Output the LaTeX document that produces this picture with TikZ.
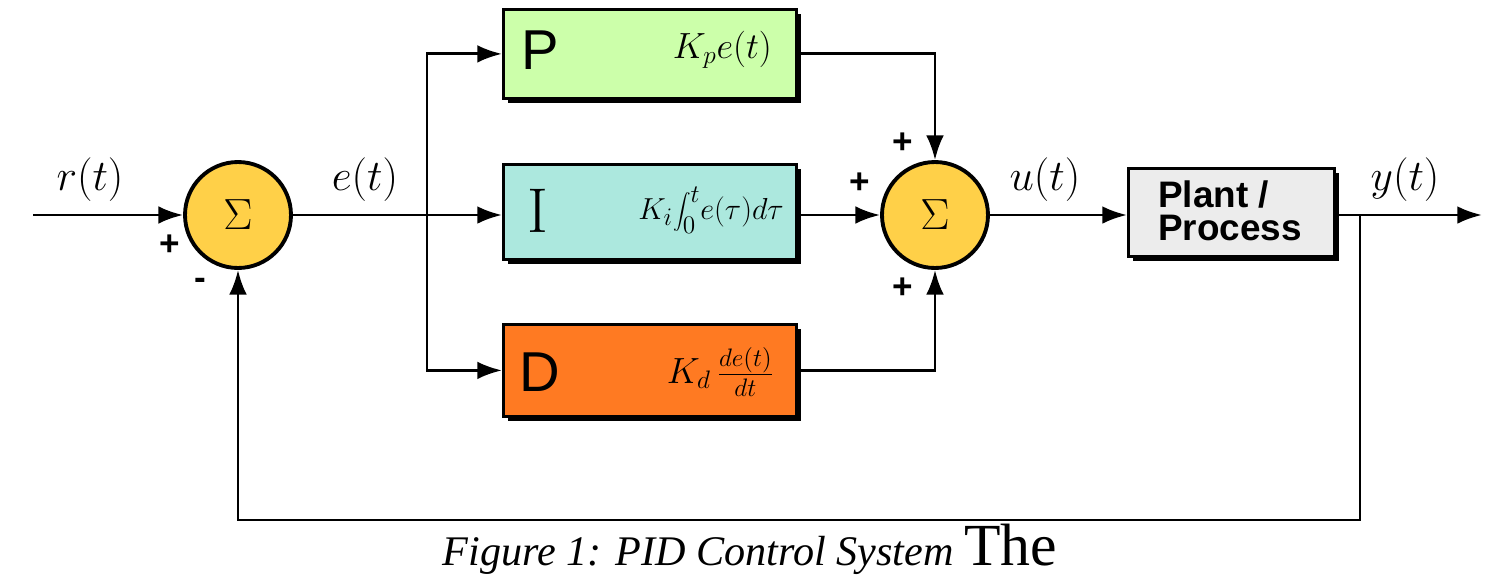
\documentclass[tikz,border=0pt]{standalone}
\usepackage{fontspec}
\setsansfont{Liberation Sans}
\newfontfamily\capfont{Liberation Serif}
\usetikzlibrary{arrows.meta}
\definecolor{pgreen}{RGB}{204,255,170}
\definecolor{icyan}{RGB}{172,232,222}
\definecolor{dorange}{RGB}{255,122,34}
\definecolor{plantg}{RGB}{236,236,236}
\definecolor{sumy}{RGB}{255,208,72}
\begin{document}
\begin{tikzpicture}[x=0.02cm,y=-0.02cm,
  blk/.style={draw=black,line width=1.6pt,minimum width=5.86cm,minimum height=1.84cm,anchor=north west,inner sep=0pt},
  sum/.style={circle,draw=black,line width=2.2pt,fill=sumy,minimum size=2.12cm,inner sep=0pt,font=\fontsize{48}{48}\selectfont},
  wire/.style={line width=1.6pt},
  arr/.style={wire,-{Latex[length=14pt,width=10pt]}},
  lbl/.style={font=\fontsize{24}{24}\selectfont},
  fml/.style={font=\fontsize{22}{22}\selectfont,anchor=east},
  sgn/.style={font=\sffamily\bfseries\fontsize{20}{20}\selectfont}]
\useasboundingbox (0,0) rectangle (1489,582);
% shadows
\fill (508,14) rectangle (801,103);
\fill (508,169) rectangle (801,264);
\fill (508,329) rectangle (801,421);
\fill (1133,173) rectangle (1339,261);
\node[blk,fill=pgreen,minimum height=1.78cm] (P) at (502,8) {};
\node[blk,fill=icyan,minimum height=1.9cm] (I) at (502,163) {};
\node[blk,fill=dorange] (D) at (502,323) {};
\node[draw=black,line width=1.6pt,fill=plantg,minimum width=4.12cm,minimum height=1.76cm,anchor=north west,inner sep=0pt] (G) at (1127,167) {};
\node[font=\sffamily\bfseries\fontsize{21}{19}\selectfont,align=left] (Gt) at (1230,211) {Plant /\\Process};
\node[font=\sffamily\fontsize{32}{32}\selectfont] (Pl) at (540,50) {P};
\node[font=\fontsize{36}{36}\selectfont] (Il) at (538,211) {I};
\node[font=\sffamily\fontsize{32}{32}\selectfont] (Dl) at (540,372) {D};
\node[fml] (Pf) at (778,50) {$K_p e(t)$};
\node[fml,font=\fontsize{19}{19}\selectfont] (If) at (790,210) {$K_i\!\displaystyle\int_0^t\! e(\tau)d\tau$};
\node[fml] (Df) at (780,372) {$K_d\,\frac{de(t)}{dt}$};
\node[sum] (S1) at (238,215) {$\Sigma$};
\node[sum] (S2) at (935,215) {$\Sigma$};
\coordinate (in) at (33,215);
\coordinate (br) at (427,215);
\coordinate (out) at (1482,215);
\coordinate (tap) at (1360,215);
\coordinate (fb1) at (1360,520);
\coordinate (fb2) at (238,520);
\draw[arr] (in) -- (S1);
\draw[wire] (S1) -- (br);
\draw[arr] (br) -- (br -| I.west);
\draw[arr] (br) |- (P.west);
\draw[arr] (br) |- (D.west);
\draw[arr] (P.east) -| (S2.north);
\draw[arr] (I.east |- S2) -- (S2.west);
\draw[arr] (S2) -- (S2 -| G.west);
\draw[arr] (G.east |- S2) -- (out);
\draw[arr] (D.east) -| (S2.south);
\draw[arr] (tap) -- (fb1) -- (fb2) -- (S1.south);
\node[lbl] (rl) at (90,180) {$r(t)$};
\node[lbl] (el) at (365,180) {$e(t)$};
\node[lbl] (ul) at (1045,180) {$u(t)$};
\node[lbl] (yl) at (1405,180) {$y(t)$};
\node[sgn] (s1) at (170,245) {+};
\node[sgn] (s2) at (200,284) {-};
\node[sgn] (s3) at (903,143) {+};
\node[sgn] (s4) at (860,183) {+};
\node[sgn] (s5) at (903,288) {+};
\node[anchor=base] (cap) at (750,565) {\capfont\fontsize{24}{24}\selectfont\itshape Figure 1: PID Control System \upshape\fontsize{34}{34}\selectfont The};
\end{tikzpicture}
\end{document}
